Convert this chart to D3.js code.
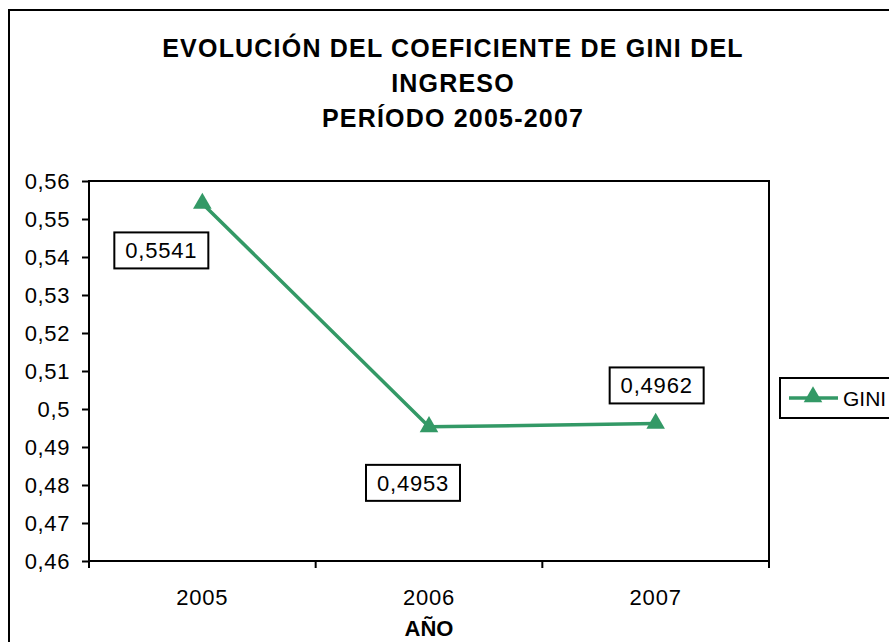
<!DOCTYPE html>
<html>
<head>
<meta charset="utf-8">
<script src="https://cdn.jsdelivr.net/npm/d3@7"></script>
<style>
  body { margin: 0; background: #fff; }
  text { font-family: "Liberation Sans", Arial, sans-serif; }
</style>
</head>
<body>
<svg id="chart"></svg>
<script>
// data
const years = ["2005", "2006", "2007"];
const gini = [0.5541, 0.4953, 0.4962];
const giniLabels = ["0,5541", "0,4953", "0,4962"];
const yTicks = [0.46, 0.47, 0.48, 0.49, 0.50, 0.51, 0.52, 0.53, 0.54, 0.55, 0.56];
const titleLines = ["EVOLUCIÓN DEL COEFICIENTE DE GINI DEL", "INGRESO", "PERÍODO 2005-2007"];

const width = 889;
const height = 642;
const marginLeft = 89;
const marginRight = 120;
const marginTop = 181;
const marginBottom = 81;
const green = "#339966";
const fs = 22;

const svg = d3.select("#chart")
    .attr("width", width)
    .attr("height", height)
    .attr("viewBox", `0 0 ${width} ${height}`);

// outer chart frame (runs off right/bottom edge)
svg.append("rect")
    .attr("x", 9).attr("y", 10)
    .attr("width", 900).attr("height", 660)
    .attr("fill", "#fff")
    .attr("stroke", "#000")
    .attr("stroke-width", 2);

const x = d3.scaleBand()
    .domain(years)
    .range([marginLeft, width - marginRight]);

const y = d3.scaleLinear()
    .domain([0.46, 0.56])
    .range([height - marginBottom, marginTop]);

// title
svg.append("text")
    .attr("text-anchor", "middle")
    .attr("font-weight", "bold")
    .attr("font-size", 25)
    .attr("letter-spacing", 1.2)
    .selectAll("tspan")
    .data(titleLines)
    .join("tspan")
    .attr("x", 453)
    .attr("y", (d, i) => 57 + i * 35)
    .text(d => d);

// plot area border
svg.append("rect")
    .attr("x", marginLeft)
    .attr("y", marginTop)
    .attr("width", width - marginRight - marginLeft)
    .attr("height", height - marginBottom - marginTop)
    .attr("fill", "none")
    .attr("stroke", "#000")
    .attr("stroke-width", 2);

// y axis
svg.append("g")
    .attr("transform", `translate(${marginLeft},0)`)
    .call(d3.axisLeft(y).tickValues(yTicks).tickSize(7).tickPadding(12)
        .tickFormat(d => d3.format(".2~f")(d).replace(".", ",")))
    .call(g => g.select(".domain").remove())
    .call(g => g.selectAll(".tick line").attr("stroke-width", 2))
    .call(g => g.selectAll(".tick text")
        .attr("font-size", fs)
        .attr("letter-spacing", 0.6)
        .attr("fill", "#000")
        .attr("font-family", "Liberation Sans, Arial, sans-serif"));

// x axis: ticks on band boundaries, labels at centres
const xEdges = years.map(d => x(d)).concat([x(years[years.length - 1]) + x.bandwidth()]);
svg.append("g")
    .selectAll("line")
    .data(xEdges)
    .join("line")
    .attr("x1", d => d).attr("x2", d => d)
    .attr("y1", height - marginBottom)
    .attr("y2", height - marginBottom + 7)
    .attr("stroke", "#000")
    .attr("stroke-width", 2);

svg.append("g")
    .selectAll("text")
    .data(years)
    .join("text")
    .attr("x", d => x(d) + x.bandwidth() / 2)
    .attr("y", height - marginBottom + 44)
    .attr("text-anchor", "middle")
    .attr("font-size", fs)
    .attr("letter-spacing", 0.8)
    .text(d => d);

svg.append("text")
    .attr("x", (marginLeft + width - marginRight) / 2)
    .attr("y", 636)
    .attr("text-anchor", "middle")
    .attr("font-weight", "bold")
    .attr("font-size", fs)
    .text("AÑO");

// series
const pts = years.map((d, i) => [x(d) + x.bandwidth() / 2, y(gini[i])]);

svg.append("path")
    .attr("d", d3.line()(pts))
    .attr("fill", "none")
    .attr("stroke", green)
    .attr("stroke-width", 3.5);

const tri = d3.symbol().type(d3.symbolTriangle).size(150);
svg.append("g")
    .selectAll("path")
    .data(pts)
    .join("path")
    .attr("transform", d => `translate(${d[0]},${d[1]})`)
    .attr("d", tri)
    .attr("fill", green);

// data labels in boxes
const labelPos = [
    [-41, 47],   // 2005: below-left
    [-16, 56],   // 2006: below
    [1, -38]     // 2007: above
];
const lab = svg.append("g")
    .selectAll("g")
    .data(pts)
    .join("g")
    .attr("transform", (d, i) => `translate(${d[0] + labelPos[i][0]},${d[1] + labelPos[i][1]})`);

lab.append("rect")
    .attr("x", -47).attr("y", -18)
    .attr("width", 94).attr("height", 36)
    .attr("fill", "#fff")
    .attr("stroke", "#000")
    .attr("stroke-width", 2);

lab.append("text")
    .attr("text-anchor", "middle")
    .attr("dy", "0.36em")
    .attr("font-size", fs)
    .attr("letter-spacing", 0.8)
    .text((d, i) => giniLabels[i]);

// legend
const legend = svg.append("g").attr("transform", "translate(780,378)");
legend.append("rect")
    .attr("width", 130).attr("height", 40)
    .attr("fill", "#fff")
    .attr("stroke", "#000")
    .attr("stroke-width", 2);
legend.append("line")
    .attr("x1", 9).attr("x2", 58)
    .attr("y1", 20).attr("y2", 20)
    .attr("stroke", green)
    .attr("stroke-width", 3.5);
legend.append("path")
    .attr("transform", "translate(33,19)")
    .attr("d", tri)
    .attr("fill", green);
legend.append("text")
    .attr("x", 63).attr("y", 20)
    .attr("dy", "0.36em")
    .attr("font-size", 21)
    .text("GINI");
</script>
</body>
</html>
